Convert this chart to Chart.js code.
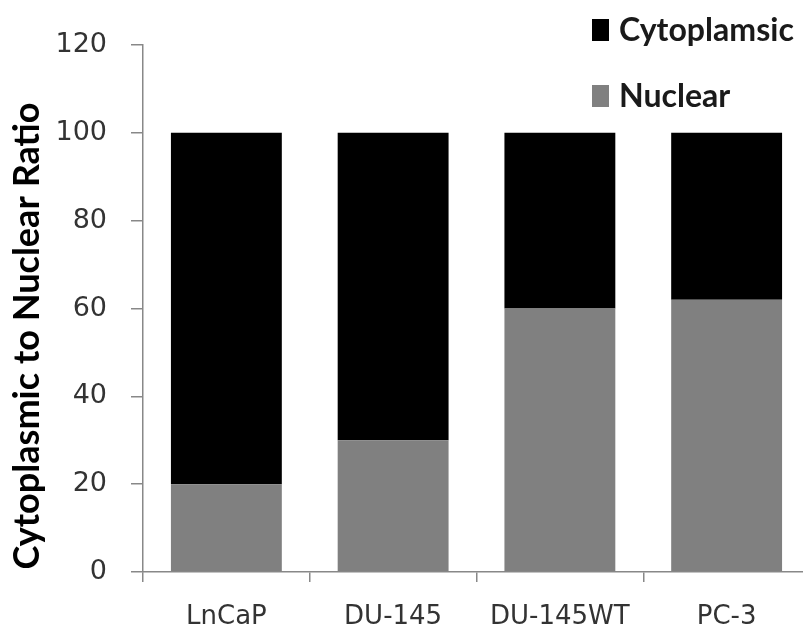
<!DOCTYPE html>
<html>
<head>
<meta charset="utf-8">
<script src="https://cdn.jsdelivr.net/npm/chart.js@4"></script>
<style>
  html, body { margin: 0; padding: 0; background: #fff; overflow: hidden; }
  #wrap { width: 815px; height: 635px; }
</style>
</head>
<body>
<div id="wrap"><canvas id="ratioChart"></canvas></div>
<script>
const cellLines = ['LnCaP', 'DU-145', 'DU-145WT', 'PC-3'];
const nuclear = [20, 30, 60, 62];
const cytoplasmic = [80, 70, 40, 38];
const yTicks = [0, 20, 40, 60, 80, 100, 120];
const yTitle = 'Cytoplasmic to Nuclear Ratio';

// pick a font size so the text fills the given width
function fitFont(ctx, text, width, weight, family) {
    ctx.font = weight + ' 20px ' + family;
    const size = 20 * width / ctx.measureText(text).width;
    return weight + ' ' + size.toFixed(1) + 'px ' + family;
}

// legend + rotated axis title, drawn by hand so they sit where the original has them
const extras = {
    id: 'extras',
    afterDraw(chart) {
        const ctx = chart.ctx;
        ctx.save();
        ctx.fillStyle = '#000';
        ctx.font = fitFont(ctx, yTitle, 467, 'bold', 'Lato, sans-serif');
        ctx.textAlign = 'center';
        ctx.textBaseline = 'middle';
        ctx.translate(27, 336);
        ctx.rotate(-Math.PI / 2);
        ctx.fillText(yTitle, 0, 0);
        ctx.restore();

        // legend, top series first
        const items = chart.data.datasets.slice().reverse();
        ctx.save();
        const legendFont = fitFont(ctx, items[0].label, 175, 'bold', 'Lato, sans-serif');
        ctx.textBaseline = 'middle';
        ctx.textAlign = 'left';
        items.forEach((ds, i) => {
            const y = 30 + i * 66;
            ctx.fillStyle = ds.backgroundColor;
            ctx.fillRect(592, y - 11, 17, 22);
            ctx.font = legendFont;
            ctx.fillStyle = '#1a1a1a';
            ctx.fillText(ds.label, 619, y + 1);
        });
        ctx.restore();
    }
};

new Chart(document.getElementById('ratioChart'), {
    type: 'bar',
    data: {
        labels: cellLines,
        datasets: [
            { label: 'Nuclear', data: nuclear, backgroundColor: '#808080' },
            { label: 'Cytoplamsic', data: cytoplasmic, backgroundColor: '#000000' }
        ]
    },
    options: {
        responsive: true,
        maintainAspectRatio: false,
        animation: false,
        layout: { padding: { top: 45, right: 5 } },
        datasets: { bar: { categoryPercentage: 1, barPercentage: 0.665 } },
        plugins: { legend: { display: false }, tooltip: { enabled: false } },
        scales: {
            x: {
                stacked: true,
                border: { color: '#888', width: 1.5 },
                grid: { offset: true, drawOnChartArea: false, tickLength: 10, color: '#888', lineWidth: 1.5 },
                ticks: { color: '#333', font: { family: 'DejaVu Sans', size: 26 }, padding: 20 },
                afterFit(scale) { scale.height = 63; }
            },
            y: {
                stacked: true,
                min: 0,
                max: 120,
                border: { color: '#888', width: 1.5 },
                grid: { drawOnChartArea: false, tickLength: 12, color: '#888', lineWidth: 1.5 },
                afterBuildTicks(scale) { scale.ticks = yTicks.map(v => ({ value: v })); },
                ticks: { color: '#333', font: { family: 'DejaVu Sans', size: 27 }, padding: 24 },
                afterFit(scale) { scale.width = 143; }
            }
        }
    },
    plugins: [extras]
});
</script>
</body>
</html>
